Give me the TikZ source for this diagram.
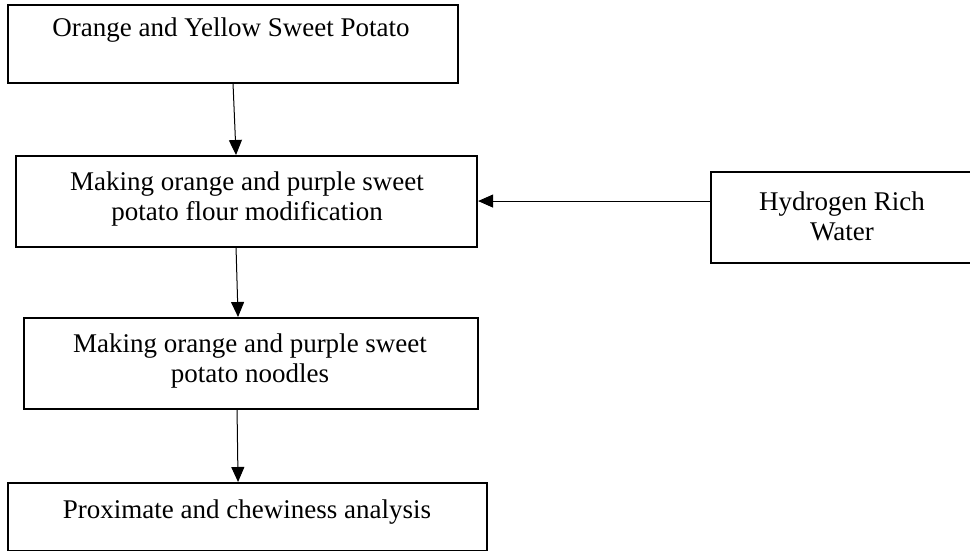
\documentclass[tikz,border=0pt]{standalone}
\usepackage{fontspec}
\setmainfont{Liberation Serif}
\usetikzlibrary{arrows.meta}
\begin{document}
\begin{tikzpicture}[x=1pt,y=-1pt,
  box/.style={draw=black, line width=2.1pt, inner sep=0pt, anchor=north west},
  txt/.style={font=\fontsize{27}{30}\selectfont, align=center, inner sep=0pt},
  arr/.style={line width=1pt, -{Triangle[length=15pt,width=13pt]}}]
\useasboundingbox (0,0) rectangle (970,551);
% boxes
\node[box, minimum width=450pt, minimum height=78pt] (b1) at (7,4) {};
\node[box, minimum width=461pt, minimum height=91pt] (b2) at (15,155) {};
\node[box, minimum width=265pt, minimum height=91pt] (b3) at (710,171) {};
\node[box, minimum width=454pt, minimum height=91pt] (b4) at (23,317) {};
\node[box, minimum width=479pt, minimum height=68pt] (b5) at (7,482) {};
% texts
\node[txt] (t1) at (231,30) {Orange and Yellow Sweet Potato};
\node[txt] (t2) at (247,199) {Making orange and purple sweet\\potato flour modification};
\node[txt] (t3) at (842,216) {Hydrogen Rich\\Water};
\node[txt] (t4) at (250,361) {Making orange and purple sweet\\potato noodles};
\node[txt] (t5) at (247,512) {Proximate and chewiness analysis};
% connectors
\draw[arr] (b1.south) -- ([xshift=-10.5pt]b2.north);
\draw[arr] ([xshift=-10.5pt]b2.south) -- ([xshift=-13pt]b4.north);
\draw[arr] ([xshift=-14pt]b4.south) -- ([xshift=-9.5pt]b5.north);
\coordinate (h) at ([yshift=16.5pt]b3.west);
\draw[arr] (h) -- (h -| b2.east);
\end{tikzpicture}
\end{document}
